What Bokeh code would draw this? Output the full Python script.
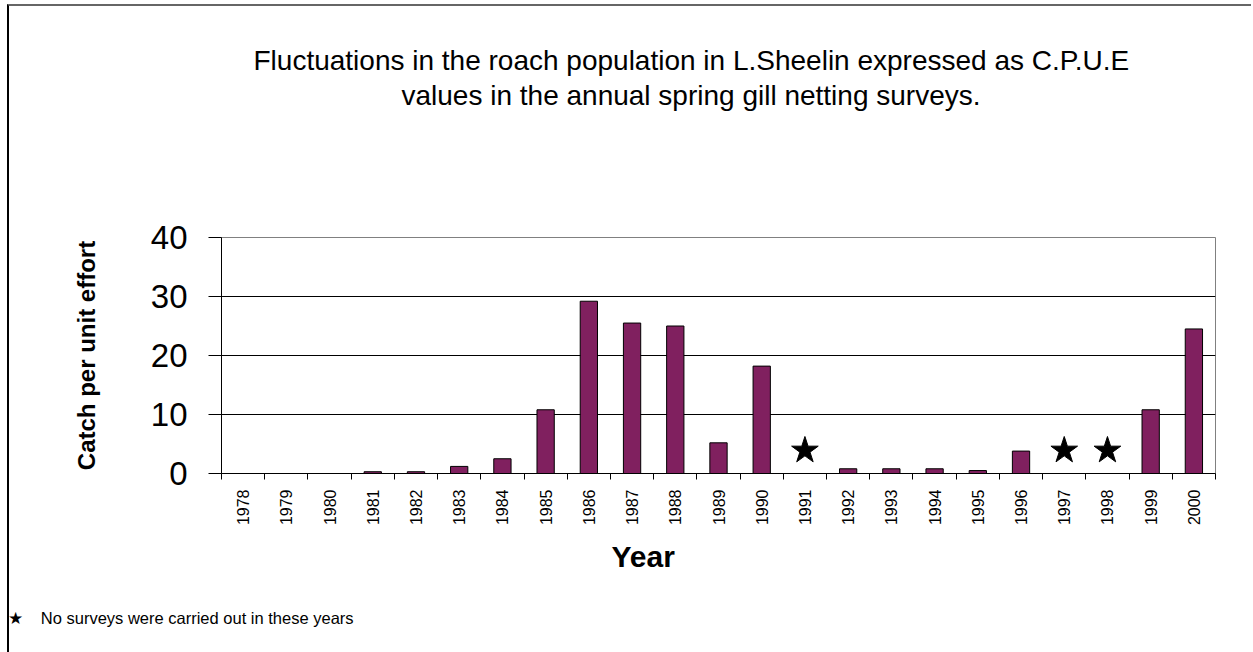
import math
import numpy as np
from bokeh.plotting import figure
from bokeh.layouts import column
from bokeh.models import ColumnDataSource, Range1d, LinearAxis, FixedTicker, Grid, Title
from bokeh.embed import file_html
from bokeh.resources import INLINE

# ---- data ----
years = ["1978", "1979", "1980", "1981", "1982", "1983", "1984", "1985", "1986", "1987",
         "1988", "1989", "1990", "1991", "1992", "1993", "1994", "1995", "1996", "1997",
         "1998", "1999", "2000"]
cpue = [0, 0, 0, 0.3, 0.3, 1.2, 2.5, 10.8, 29.2, 25.5,
        25.0, 5.2, 18.2, None, 0.8, 0.8, 0.8, 0.5, 3.8, None,
        None, 10.8, 24.5]
no_survey_years = ["1991", "1997", "1998"]
star_level = 3.9
y_ticks = [0, 10, 20, 30, 40]
grid_ticks = [10, 20, 30]
title_lines = ["Fluctuations in the roach population in L.Sheelin expressed as C.P.U.E",
               "values in the annual spring gill netting surveys."]
legend_text = "No surveys were carried out in these years"
x_title = "Year"
y_title = "Catch per unit effort"

FONT = "Liberation Sans"
BAR_COLOR = "#80205F"

# ---- layout constants (pixels, relative to the figure's own top-left) ----
IW, IH = 1242, 646                    # figure size (window minus margin and border)
FL, FR, FT, FB = 212, 1206, 231, 467  # plot frame edges


def title(text, size, offset, standoff, bold=False):
    return Title(text=text, align="left", offset=offset, standoff=standoff,
                 text_font=FONT, text_font_size=size, text_color="black",
                 text_font_style="bold" if bold else "normal",
                 vertical_align="middle")


n = len(years)
xc = [i + 0.5 for i in range(n)]
vals = np.array([np.nan if v is None else v for v in cpue], dtype=float)
src = ColumnDataSource(dict(x=xc, cpue=vals, year=years))

p = figure(width=IW, height=IH, x_range=Range1d(0, n), y_range=Range1d(0, 40),
           output_backend="svg", toolbar_location=None,
           x_axis_type=None, y_axis_type=None,
           min_border_left=FL, min_border_right=IW - FR,
           min_border_top=FT, min_border_bottom=IH - FB)
p.background_fill_color = "white"
p.border_fill_color = "white"
p.outline_line_color = "#808080"
p.outline_line_width = 1

# ---- y axis ----
yax = LinearAxis(ticker=FixedTicker(ticks=y_ticks), axis_label=y_title)
yax.axis_line_color = "black"
yax.major_tick_out = 13
yax.major_tick_in = 0
yax.minor_tick_line_color = None
yax.major_label_standoff = 21
yax.major_label_text_font = FONT
yax.major_label_text_font_size = "33px"
yax.major_label_text_color = "black"
yax.axis_label_text_font = FONT
yax.axis_label_text_font_style = "bold"
yax.axis_label_text_font_size = "24px"
yax.axis_label_text_color = "black"
yax.axis_label_standoff = 48
p.add_layout(yax, "left")

p.add_layout(Grid(dimension=1, ticker=FixedTicker(ticks=grid_ticks),
                  grid_line_color="black", grid_line_width=1))

# ---- x axis: labels at category centres, tick marks at category boundaries ----
xax = LinearAxis(ticker=FixedTicker(ticks=xc, minor_ticks=list(range(n + 1))))
xax.major_label_overrides = {x: y for x, y in zip(xc, years)}
xax.major_label_orientation = math.pi / 2
xax.major_tick_line_color = None
xax.major_tick_out = 0
xax.major_tick_in = 0
xax.minor_tick_line_color = "black"
xax.minor_tick_out = 6
xax.minor_tick_in = 0
xax.axis_line_color = "black"
xax.major_label_standoff = 10
xax.major_label_text_font = FONT
xax.major_label_text_font_size = "16px"
xax.major_label_text_color = "black"
p.add_layout(xax, "below")

# x axis title and the note on the stars, stacked below the axis
p.add_layout(title(x_title, "30px", 390, 20, bold=True), "below")
p.add_layout(title("\u2605\u00a0\u00a0\u00a0\u00a0" + legend_text, "16.5px", -214, 48), "below")

# chart title, stacked above the frame (spacer nearest the frame)
p.add_layout(Title(text=" ", standoff=112, text_font_size="10px"), "above")
p.add_layout(title(title_lines[1], "28px", 180, 2), "above")
p.add_layout(title(title_lines[0], "28px", 32, 2), "above")

# ---- bars and no-survey stars ----
p.vbar(x="x", top="cpue", width=0.4, source=src,
       fill_color=BAR_COLOR, line_color="black", line_width=1)

star_x = [years.index(y) + 0.5 for y in no_survey_years]
p.scatter(x=star_x, y=[star_level] * len(star_x), marker="star", size=28,
          fill_color="black", line_color="black")

root = column(p, spacing=0)
root.margin = (4, 0, 0, 7)
root.styles = {"border-top": "2px solid #666666", "border-left": "2px solid #000000"}

open("out.html", "w").write(file_html(root, INLINE))
